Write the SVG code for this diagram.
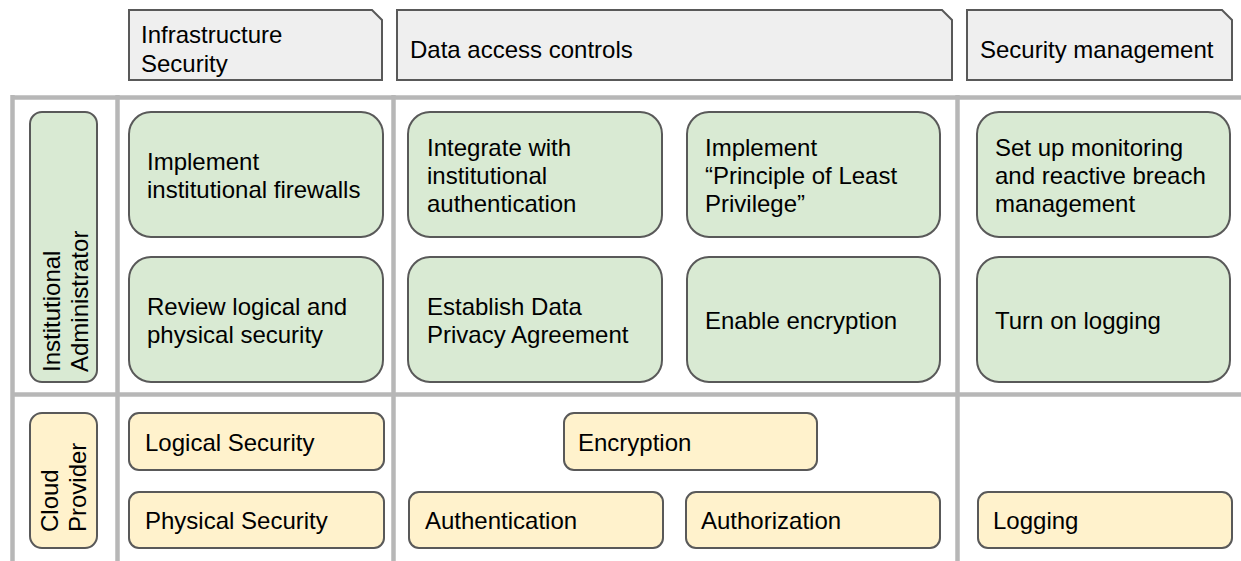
<svg xmlns="http://www.w3.org/2000/svg" width="1241" height="561" viewBox="0 0 1241 561">
  <style>
    text { font-family: "Liberation Sans", Arial, sans-serif; font-size: 24px; fill: #000; }
    .hdr { fill: #efefef; stroke: #595959; stroke-width: 2; }
    .grid { stroke: #b7b7b7; stroke-width: 4.5; fill: none; }
    .green { fill: #d9ead3; stroke: #595959; stroke-width: 2; }
    .yellow { fill: #fff2cc; stroke: #595959; stroke-width: 2; }
  </style>
  <rect width="1241" height="561" fill="#fff"/>

  <!-- table grid lines -->
  <g id="grid">
    <line class="grid" x1="12.5" y1="97.5" x2="1241" y2="97.5"/>
    <line class="grid" x1="12.5" y1="394.5" x2="1241" y2="394.5"/>
    <line class="grid" x1="12.5" y1="95" x2="12.5" y2="561"/>
    <line class="grid" x1="117.5" y1="95" x2="117.5" y2="561"/>
    <line class="grid" x1="393.5" y1="95" x2="393.5" y2="561"/>
    <line class="grid" x1="957.5" y1="95" x2="957.5" y2="561"/>
  </g>

  <!-- column headers -->
  <g id="hdr-infra">
    <path class="hdr" d="M129,10 H372 L382,20 V80 H129 Z"/>
    <text x="141" y="43">Infrastructure</text>
    <text x="141" y="72">Security</text>
  </g>
  <g id="hdr-data">
    <path class="hdr" d="M397,10 H942 L952,20 V80 H397 Z"/>
    <text x="410" y="58">Data access controls</text>
  </g>
  <g id="hdr-secmgmt">
    <path class="hdr" d="M967,10 H1222 L1232,20 V80 H967 Z"/>
    <text x="980" y="58">Security management</text>
  </g>

  <!-- row labels -->
  <g id="row-admin">
    <rect class="green" x="30" y="112" width="67" height="270" rx="12"/>
    <text transform="translate(60,372) rotate(-90)">Institutional</text>
    <text transform="translate(88,372) rotate(-90)">Administrator</text>
  </g>
  <g id="row-cloud">
    <rect class="yellow" x="30" y="413" width="67" height="135" rx="12"/>
    <text transform="translate(58,532) rotate(-90)">Cloud</text>
    <text transform="translate(86,532) rotate(-90)">Provider</text>
  </g>

  <!-- institutional administrator tasks -->
  <g id="firewalls">
    <rect class="green" x="129" y="112" width="254" height="125" rx="22"/>
    <text x="147" y="170">Implement</text>
    <text x="147" y="198">institutional firewalls</text>
  </g>
  <g id="review-security">
    <rect class="green" x="129" y="257" width="254" height="125" rx="22"/>
    <text x="147" y="315">Review logical and</text>
    <text x="147" y="343">physical security</text>
  </g>
  <g id="integrate-auth">
    <rect class="green" x="408" y="112" width="254" height="125" rx="22"/>
    <text x="427" y="156">Integrate with</text>
    <text x="427" y="184">institutional</text>
    <text x="427" y="212">authentication</text>
  </g>
  <g id="least-privilege">
    <rect class="green" x="687" y="112" width="253" height="125" rx="22"/>
    <text x="705" y="156">Implement</text>
    <text x="705" y="184">“Principle of Least</text>
    <text x="705" y="212">Privilege”</text>
  </g>
  <g id="privacy-agreement">
    <rect class="green" x="408" y="257" width="254" height="125" rx="22"/>
    <text x="427" y="315">Establish Data</text>
    <text x="427" y="343">Privacy Agreement</text>
  </g>
  <g id="enable-encryption">
    <rect class="green" x="687" y="257" width="253" height="125" rx="22"/>
    <text x="705" y="329">Enable encryption</text>
  </g>
  <g id="monitoring">
    <rect class="green" x="977" y="112" width="253" height="125" rx="22"/>
    <text x="995" y="156">Set up monitoring</text>
    <text x="995" y="184">and reactive breach</text>
    <text x="995" y="212">management</text>
  </g>
  <g id="turn-on-logging">
    <rect class="green" x="977" y="257" width="253" height="125" rx="22"/>
    <text x="995" y="329">Turn on logging</text>
  </g>

  <!-- cloud provider services -->
  <g id="logical-security">
    <rect class="yellow" x="129" y="413" width="255" height="57" rx="10"/>
    <text x="145" y="451">Logical Security</text>
  </g>
  <g id="physical-security">
    <rect class="yellow" x="129" y="492" width="255" height="56" rx="10"/>
    <text x="145" y="529">Physical Security</text>
  </g>
  <g id="encryption">
    <rect class="yellow" x="564" y="413" width="253" height="57" rx="10"/>
    <text x="578" y="451">Encryption</text>
  </g>
  <g id="authentication">
    <rect class="yellow" x="409" y="492" width="254" height="56" rx="10"/>
    <text x="425" y="529">Authentication</text>
  </g>
  <g id="authorization">
    <rect class="yellow" x="686" y="492" width="254" height="56" rx="10"/>
    <text x="701" y="529">Authorization</text>
  </g>
  <g id="logging">
    <rect class="yellow" x="978" y="492" width="254" height="56" rx="10"/>
    <text x="993" y="529">Logging</text>
  </g>
</svg>
